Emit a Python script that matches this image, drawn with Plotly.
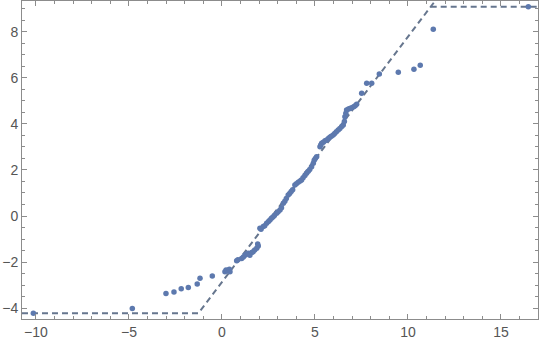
import plotly.graph_objects as go

# data points (x, y)
xs = [-10.14, -4.82, -3.01, -2.58, -2.19, -1.81, -1.33, -1.18, -0.52,
      0.16, 0.22, 0.30, 0.40, 0.43, 0.79, 0.86, 1.06, 1.15, 1.24, 1.30, 1.41, 1.50,
      1.60, 1.68, 1.76, 1.87, 1.95, 1.92, 2.04, 2.10, 2.22, 2.30, 2.40, 2.50,
      2.58, 2.66, 2.74, 2.82, 2.94, 3.02, 3.12, 3.20, 3.30, 3.38, 3.46, 3.56,
      3.64, 3.72, 3.80, 3.92, 4.00, 4.10, 4.20, 4.28, 4.36, 4.46, 4.55, 4.64,
      4.72, 4.82, 4.91, 4.96, 5.02, 5.09, 5.27, 5.31, 5.36, 5.45, 5.54, 5.63,
      5.72, 5.80, 5.88, 5.98, 6.06, 6.15, 6.25, 6.34, 6.44, 6.52, 6.58, 6.61,
      6.66, 6.70, 6.80, 6.88, 6.97, 7.08, 7.16, 7.24, 7.51, 7.78, 8.05, 8.46,
      9.48, 10.32, 10.66, 11.36, 16.47]
ys = [-4.22, -4.01, -3.36, -3.30, -3.16, -3.10, -2.95, -2.70, -2.60,
      -2.42, -2.34, -2.36, -2.31, -2.42, -1.94, -1.90, -1.84, -1.78, -1.70, -1.66, -1.62, -1.70,
      -1.58, -1.55, -1.48, -1.40, -1.30, -1.22, -0.53, -0.58, -0.46, -0.42, -0.32, -0.24,
      -0.17, -0.10, -0.04, 0.02, 0.12, 0.18, 0.26, 0.36, 0.55, 0.64, 0.76, 0.91,
      0.98, 1.06, 1.14, 1.35, 1.40, 1.46, 1.52, 1.56, 1.66, 1.76, 1.85, 1.94,
      2.02, 2.14, 2.29, 2.42, 2.50, 2.57, 3.01, 3.08, 3.16, 3.20, 3.26, 3.30,
      3.36, 3.42, 3.46, 3.52, 3.58, 3.66, 3.73, 3.80, 3.88, 3.95, 4.10, 4.31,
      4.46, 4.60, 4.64, 4.67, 4.70, 4.74, 4.78, 4.85, 5.33, 5.76, 5.76, 6.16,
      6.24, 6.37, 6.54, 8.10, 9.08]

# reference line parameters
line_slope = 1.065
line_intercept = -2.87
line_ymin = -4.22
line_ymax = 9.08

x_range = [-10.75, 16.99]
y_range = [-4.47, 9.33]

x_lo = (line_ymin - line_intercept) / line_slope
x_hi = (line_ymax - line_intercept) / line_slope
x_top = (y_range[1] + 0.5 - line_intercept) / line_slope

line_color = "#66768e"
point_color = "#5d79ae"

fig = go.Figure()
fig.add_trace(go.Scatter(
    x=[x_range[0], x_lo, x_top], y=[line_ymin, line_ymin, y_range[1] + 0.5],
    mode="lines", line=dict(color=line_color, width=2, dash="6px,4px"),
    hoverinfo="skip", showlegend=False))
fig.add_trace(go.Scatter(
    x=[x_hi, x_range[1]], y=[line_ymax, line_ymax],
    mode="lines", line=dict(color=line_color, width=2, dash="6px,4px"),
    hoverinfo="skip", showlegend=False))
fig.add_trace(go.Scatter(
    x=xs, y=ys, mode="markers",
    marker=dict(color=point_color, size=5.5, line=dict(width=0)),
    showlegend=False, cliponaxis=False))

axis_common = dict(
    showgrid=False, zeroline=False, showline=True, linecolor="#8c8c8c", linewidth=1,
    mirror="ticks", ticks="inside", ticklen=5, tickcolor="#8c8c8c", tickwidth=1,
    tickfont=dict(family="Liberation Sans, Arial, sans-serif", size=14, color="#555555"),
)

fig.update_xaxes(range=x_range, dtick=5, tick0=0,
                 minor=dict(dtick=1, ticks="inside", ticklen=3, tickcolor="#8c8c8c", showgrid=False),
                 **axis_common)
fig.update_yaxes(range=y_range, dtick=2, tick0=0,
                 minor=dict(dtick=0.5, ticks="inside", ticklen=3, tickcolor="#8c8c8c", showgrid=False),
                 **axis_common)

fig.update_layout(
    width=540, height=342,
    margin=dict(l=22, r=2, t=1, b=23),
    plot_bgcolor="white", paper_bgcolor="white",
    separators=".-",
)

fig.write_html("out.html")
